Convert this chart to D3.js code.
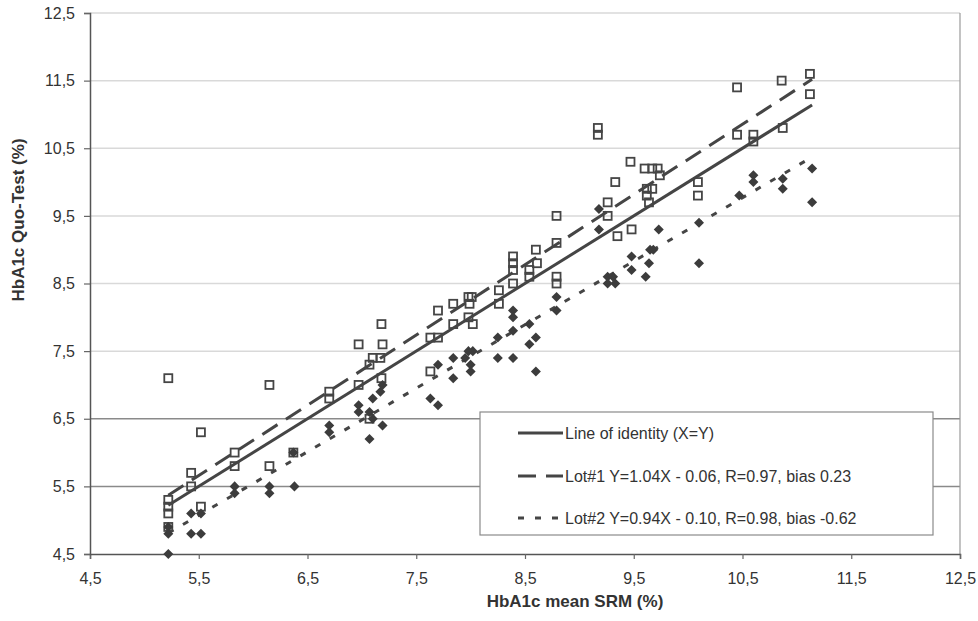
<!DOCTYPE html>
<html>
<head>
<meta charset="utf-8">
<script src="https://cdn.jsdelivr.net/npm/d3@7"></script>
<style>
  html, body { margin: 0; padding: 0; background: #fff; }
  svg { display: block; font-family: "Liberation Sans", Arial, sans-serif; }
</style>
</head>
<body>
<svg id="chart" width="978" height="621"></svg>
<script>
// ---- data ----
const tickValues = [4.5, 5.5, 6.5, 7.5, 8.5, 9.5, 10.5, 11.5, 12.5];
const tickLabels = ["4,5", "5,5", "6,5", "7,5", "8,5", "9,5", "10,5", "11,5", "12,5"];

// Lot#1 (open squares)
const lot1X = [5.22,5.22,5.22,5.22,5.22,5.43,5.43,5.52,5.52,5.83,5.83,6.15,6.15,6.37,6.7,6.7,6.97,6.97,7.07,7.07,7.1,7.17,7.18,7.19,7.18,7.63,7.63,7.7,7.7,7.84,7.84,7.98,8.01,7.99,7.98,8.02,8.26,8.26,8.39,8.39,8.39,8.39,8.54,8.54,8.6,8.61,8.79,8.79,8.79,8.79,9.17,9.17,9.26,9.26,9.33,9.35,9.47,9.48,9.6,9.62,9.62,9.64,9.67,9.67,9.72,9.74,10.09,10.09,10.45,10.45,10.6,10.6,10.86,10.87,11.12,11.12];
const lot1Y = [7.1,5.3,5.2,5.1,4.9,5.7,5.5,6.3,5.2,6.0,5.8,7.0,5.8,6.0,6.9,6.8,7.6,7.0,7.3,6.5,7.4,7.4,7.9,7.6,7.1,7.7,7.2,8.1,7.7,8.2,7.9,8.3,8.3,8.2,8.0,7.9,8.4,8.2,8.9,8.8,8.7,8.5,8.7,8.6,9.0,8.8,9.5,9.1,8.6,8.5,10.8,10.7,9.7,9.5,10.0,9.2,10.3,9.3,10.2,9.9,9.8,9.7,10.2,9.9,10.2,10.1,10.0,9.8,11.4,10.7,10.7,10.6,11.5,10.8,11.6,11.3];

// Lot#2 (filled diamonds)
const lot2X = [5.22,5.22,5.22,5.43,5.43,5.52,5.52,5.83,5.83,6.15,6.15,6.37,6.38,6.7,6.7,6.97,6.97,7.07,7.07,7.1,7.1,7.17,7.19,7.19,7.63,7.7,7.7,7.84,7.84,7.98,8.02,7.95,8.0,8.0,8.25,8.25,8.39,8.39,8.39,8.39,8.54,8.54,8.6,8.6,8.79,8.79,9.18,9.18,9.26,9.26,9.31,9.33,9.48,9.48,9.61,9.64,9.65,9.68,9.73,10.1,10.1,10.47,10.6,10.6,10.87,10.87,11.14,11.14];
const lot2Y = [4.9,4.8,4.5,5.1,4.8,5.1,4.8,5.5,5.4,5.5,5.4,6.0,5.5,6.4,6.3,6.7,6.6,6.6,6.2,6.8,6.5,6.9,7.0,6.4,6.8,7.3,6.7,7.4,7.1,7.5,7.5,7.4,7.3,7.2,7.7,7.4,8.1,8.0,7.8,7.4,7.9,7.6,7.7,7.2,8.3,8.1,9.6,9.3,8.6,8.5,8.6,8.5,8.9,8.7,8.6,8.8,9.0,9.0,9.3,9.4,8.8,9.8,10.1,10.0,10.05,9.9,10.2,9.7];

// Fitted lines (endpoints)
const identityX = [5.22, 11.14];
const identityY = [5.22, 11.14];
const lot1LineX = [5.22, 11.14];
const lot1LineY = [5.37, 11.52];
const lot2LineX = [5.22, 11.14];
const lot2LineY = [4.81, 10.37];

const legendLabels = [
  "Line of identity (X=Y)",
  "Lot#1 Y=1.04X - 0.06, R=0.97, bias 0.23",
  "Lot#2 Y=0.94X - 0.10, R=0.98, bias -0.62"
];
const xTitle = "HbA1c mean SRM (%)";
const yTitle = "HbA1c Quo-Test (%)";

// ---- layout ----
const svg = d3.select("#chart");
const L = 90, R = 960, T = 13, B = 554;
const x = d3.scaleLinear().domain([4.5, 12.5]).range([L, R]);
const y = d3.scaleLinear().domain([4.5, 12.5]).range([B, T]);
const ink = "#454545";

// gridlines
svg.append("g").selectAll("line").data(tickValues.filter(v => v > 4.5)).join("line")
  .attr("x1", L).attr("x2", R)
  .attr("y1", d => y(d)).attr("y2", d => y(d))
  .attr("stroke", d => d < 7 ? "#8a8a8a" : "#d9d9d9")
  .attr("stroke-width", 1.5);
// right border
svg.append("line").attr("x1", R).attr("x2", R).attr("y1", T).attr("y2", B)
  .attr("stroke", "#9a9a9a").attr("stroke-width", 1.2);

// axes
const xAxis = d3.axisBottom(x).tickValues(tickValues)
  .tickFormat((d, i) => tickLabels[i]).tickSize(5).tickPadding(14);
const yAxis = d3.axisLeft(y).tickValues(tickValues)
  .tickFormat((d, i) => tickLabels[i]).tickSize(6).tickPadding(9);

const gx = svg.append("g").attr("transform", `translate(0,${B})`).call(xAxis);
const gy = svg.append("g").attr("transform", `translate(${L},0)`).call(yAxis);
[gx, gy].forEach(g => {
  g.select(".domain").attr("stroke", "#555").attr("stroke-width", 1.5);
  g.selectAll(".tick line").attr("stroke", "#666").attr("stroke-width", 1.2);
  g.selectAll(".tick text").attr("fill", "#333").style("font-size", "16px")
    .style("font-family", "'Liberation Sans', Arial, sans-serif");
});

// axis titles
svg.append("text").attr("x", 575).attr("y", 607).attr("text-anchor", "middle")
  .attr("font-weight", "bold").attr("font-size", 17).attr("fill", "#333").text(xTitle);
svg.append("text").attr("transform", "translate(24,220) rotate(-90)")
  .attr("text-anchor", "middle").attr("font-weight", "bold").attr("font-size", 17)
  .attr("fill", "#333").text(yTitle);

// lines
const line = d3.line().x(d => x(d[0])).y(d => y(d[1]));
svg.append("path").datum(identityX.map((v, i) => [v, identityY[i]]))
  .attr("d", line).attr("fill", "none").attr("stroke", ink).attr("stroke-width", 3);
svg.append("path").datum(lot1LineX.map((v, i) => [v, lot1LineY[i]]))
  .attr("d", line).attr("fill", "none").attr("stroke", ink).attr("stroke-width", 3)
  .attr("stroke-dasharray", "18,10");
svg.append("path").datum(lot2LineX.map((v, i) => [v, lot2LineY[i]]))
  .attr("d", line).attr("fill", "none").attr("stroke", ink).attr("stroke-width", 3)
  .attr("stroke-dasharray", "6,11");

// points
const sq = 8;
svg.append("g").selectAll("rect").data(lot1X.map((v, i) => [v, lot1Y[i]])).join("rect")
  .attr("x", d => x(d[0]) - sq / 2).attr("y", d => y(d[1]) - sq / 2)
  .attr("width", sq).attr("height", sq)
  .attr("fill", "none").attr("stroke", ink).attr("stroke-width", 1.8);

const diamond = d3.symbol().type(d3.symbolDiamond2).size(64);
svg.append("g").selectAll("path").data(lot2X.map((v, i) => [v, lot2Y[i]])).join("path")
  .attr("transform", d => `translate(${x(d[0])},${y(d[1])})`)
  .attr("d", diamond).attr("fill", "#3c3c3c");

// legend
const lg = svg.append("g");
lg.append("rect").attr("x", 480).attr("y", 412).attr("width", 453).attr("height", 123)
  .attr("fill", "#fff").attr("stroke", "#8a8a8a").attr("stroke-width", 1.2);
const rowY = [433, 476, 518];
const dashes = [null, "18,10", "6,11"];
legendLabels.forEach((t, i) => {
  lg.append("line").attr("x1", 518).attr("x2", 563).attr("y1", rowY[i]).attr("y2", rowY[i])
    .attr("stroke", ink).attr("stroke-width", 3)
    .attr("stroke-dasharray", dashes[i]);
  lg.append("text").attr("x", 565).attr("y", rowY[i]).attr("dy", "0.35em")
    .attr("font-size", 16).attr("fill", "#333").text(t);
});
</script>
</body>
</html>
